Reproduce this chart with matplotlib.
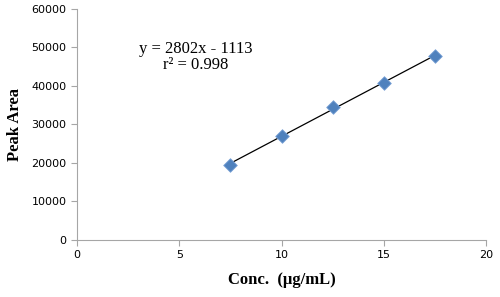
import numpy as np
import matplotlib.pyplot as plt

conc = [7.5, 10, 12.5, 15, 17.5]
area = [19400, 27100, 34600, 40800, 47800]
slope = 2802
intercept = -1113
x_ticks = [0, 5, 10, 15, 20]
y_ticks = [0, 10000, 20000, 30000, 40000, 50000, 60000]

fig = plt.figure(figsize=(5, 2.97), dpi=100)
ax = fig.add_axes([0.154, 0.192, 0.818, 0.778])

xfit = np.array([conc[0], conc[-1]])
ax.plot(xfit, slope * xfit + intercept, color='black', lw=0.9, zorder=2)
ax.scatter(conc, area, marker='D', s=48, color='#4f81bd', edgecolor='#7aa2d6',
           linewidth=0.6, zorder=3)

ax.set_xlim(0, 20)
ax.set_ylim(0, 60000)
ax.set_xticks(x_ticks)
ax.set_yticks(y_ticks)
for s in ['top', 'right']:
    ax.spines[s].set_visible(False)
for s in ['left', 'bottom']:
    ax.spines[s].set_color('#a6a6a6')
ax.tick_params(colors='#a6a6a6', labelcolor='black', labelsize=8, length=4, direction='out')
for lab in ax.get_xticklabels() + ax.get_yticklabels():
    lab.set_family('DejaVu Sans')

ax.set_xlabel('Conc.  (µg/mL)', family='Liberation Serif', fontweight='bold', fontsize=12, labelpad=8)
ax.set_ylabel('Peak Area', family='Liberation Serif', fontweight='bold', fontsize=12, labelpad=6)

fig.text(0.392, 0.808, 'y = 2802x - 1113\nr² = 0.998', ha='center', va='center',
         family='Liberation Serif', fontsize=12, linespacing=1.05)

fig.savefig('out.png', dpi=100)
